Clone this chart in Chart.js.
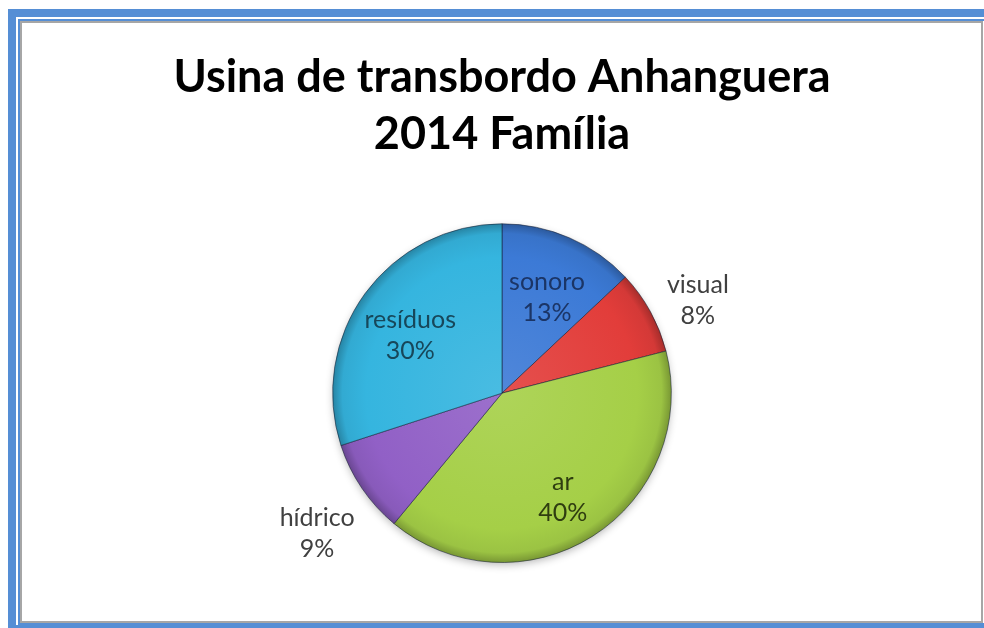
<!DOCTYPE html>
<html lang="pt">
  <head>
    <meta charset="utf-8" />
    <title>Usina de transbordo Anhanguera 2014 Família</title>
    <style>
      * {
        margin: 0;
        padding: 0;
      }
      html,
      body {
        width: 984px;
        height: 628px;
        overflow: hidden;
        background: #fff;
      }
      .page {
        position: relative;
        width: 984px;
        height: 628px;
        overflow: hidden;
      }
      .outerFrame {
        position: absolute;
        left: 8px;
        top: 9px;
        width: 976px;
        height: 624px;
        border: 8px solid #558ed5;
        border-right: none;
        box-sizing: border-box;
      }
      .innerBlue {
        position: absolute;
        left: 18px;
        top: 19px;
        width: 966px;
        height: 606px;
        border: 2px solid #558ed5;
        border-right: none;
        box-sizing: border-box;
      }
      .innerGray {
        position: absolute;
        left: 20px;
        top: 21px;
        width: 963px;
        height: 602px;
        border: 2px solid #a6a6a6;
        box-sizing: border-box;
        background: #fff;
      }
      .chartBox {
        position: absolute;
        left: 0;
        top: 0;
        width: 984px;
        height: 628px;
      }
      canvas {
        display: block;
      }
    </style>
  </head>
  <body>
    <div class="page">
      <div class="outerFrame"></div>
      <div class="innerBlue"></div>
      <div class="innerGray"></div>
      <div class="chartBox">
        <canvas id="myChart" width="984" height="628"></canvas>
      </div>
    </div>

    <script src="https://cdn.jsdelivr.net/npm/chart.js@4/dist/chart.umd.min.js"></script>

    <script>
      const categories = ["sonoro", "visual", "ar", "hídrico", "resíduos"];
      const shares = [13, 8, 40, 9, 30];
      const sliceColors = ["#3c7ad6", "#e23d3a", "#a5cf47", "#9160c6", "#35b5df"];
      const labelColors = ["#1b3566", "#404040", "#2f3d10", "#404040", "#17475a"];
      const titleLines = ["Usina de transbordo Anhanguera", "2014 Família"];

      // lighten / darken a hex colour
      const shade = (hex, amt) => {
        const n = parseInt(hex.slice(1), 16);
        let r = (n >> 16) & 255, g = (n >> 8) & 255, b = n & 255;
        const f = (c) => {
          const v = amt >= 0 ? c + (255 - c) * amt : c * (1 + amt);
          return Math.round(Math.max(0, Math.min(255, v)));
        };
        return `rgb(${f(r)}, ${f(g)}, ${f(b)})`;
      };

      // soft bevel look: light centre, darker rim
      const sliceFill = (ctx) => {
        const base = sliceColors[ctx.dataIndex];
        const area = ctx.chart.chartArea;
        if (!area) return base;
        const x = (area.left + area.right) / 2;
        const y = (area.top + area.bottom) / 2;
        const r = Math.min(area.width, area.height) / 2;
        const g = ctx.chart.ctx.createRadialGradient(x, y, 0, x, y, r);
        g.addColorStop(0, shade(base, 0.1));
        g.addColorStop(0.8, base);
        g.addColorStop(0.94, shade(base, -0.06));
        g.addColorStop(1, shade(base, -0.28));
        return g;
      };

      // faint shadow under the pie
      const pieShadow = {
        id: "pieShadow",
        beforeDatasetsDraw(chart) {
          const { ctx } = chart;
          const arc = chart.getDatasetMeta(0).data[0];
          const { x, y, outerRadius } = arc.getProps(["x", "y", "outerRadius"], true);
          ctx.save();
          ctx.shadowColor = "rgba(0, 0, 0, 0.3)";
          ctx.shadowBlur = 8;
          ctx.shadowOffsetY = 3;
          ctx.fillStyle = "#fff";
          ctx.beginPath();
          ctx.arc(x, y, outerRadius - 1, 0, Math.PI * 2);
          ctx.fill();
          ctx.restore();
        },
      };

      // labels: name + percent, inside big slices, outside small ones
      const sliceLabels = {
        id: "sliceLabels",
        afterDatasetsDraw(chart) {
          const { ctx } = chart;
          const meta = chart.getDatasetMeta(0);
          const total = shares.reduce((a, b) => a + b, 0);
          ctx.save();
          ctx.font = "25px Lato";
          ctx.textAlign = "center";
          ctx.textBaseline = "middle";
          meta.data.forEach((arc, i) => {
            const { x, y, startAngle, endAngle, outerRadius } = arc.getProps(
              ["x", "y", "startAngle", "endAngle", "outerRadius"],
              true
            );
            const mid = (startAngle + endAngle) / 2;
            const inside = shares[i] >= 10;
            const r = outerRadius * (inside ? 0.67 : 1.32);
            const cx = x + Math.cos(mid) * r;
            const cy = y + Math.sin(mid) * r + (inside ? 8 : 14);
            ctx.fillStyle = labelColors[i];
            ctx.fillText(categories[i], cx, cy - 15);
            ctx.fillText(Math.round((shares[i] / total) * 100) + "%", cx, cy + 16);
          });
          ctx.restore();
        },
      };

      const data = {
        labels: categories,
        datasets: [
          {
            data: shares,
            backgroundColor: sliceFill,
            borderColor: "rgba(20, 30, 50, 0.55)",
            borderWidth: 1,
          },
        ],
      };

      const config = {
        type: "pie",
        data: data,
        options: {
          responsive: false,
          animation: false,
          layout: {
            padding: { left: 60, right: 40, top: 0, bottom: 65 },
          },
          plugins: {
            legend: { display: false },
            tooltip: { enabled: false },
            title: {
              display: true,
              text: titleLines,
              color: "#000",
              font: { family: "Lato", size: 45, weight: "bold", lineHeight: 1.27 },
              padding: { top: 49, bottom: 60 },
            },
          },
        },
        plugins: [pieShadow, sliceLabels],
      };

      const myChart = new Chart(document.getElementById("myChart"), config);
    </script>
  </body>
</html>
